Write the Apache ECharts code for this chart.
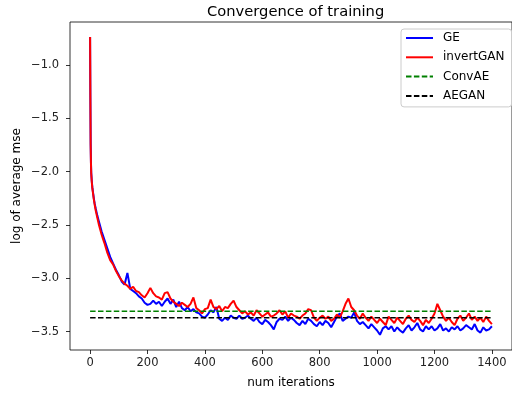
<!DOCTYPE html>
<html>
<head>
<meta charset="utf-8">
<script src="https://cdn.jsdelivr.net/npm/echarts@6/dist/echarts.min.js"></script>
<style>html,body{margin:0;padding:0;background:#fff}#c{width:512px;height:394px}</style>
</head>
<body>
<div id="c"></div>
<script>
const iters = [0,1,2,3,4,6,8,10,13,16,20,25,30,35,40,45,50,60,70,80,90,100,110,120,
130,140,150,160,170,180,190,200,210,220,230,240,250,260,270,280,290,300,310,320,330,340,350,360,370,380,390,400,
410,420,430,440,450,460,470,480,490,500,510,520,530,540,550,560,570,580,590,600,610,620,630,640,650,660,670,680,690,700,
710,720,730,740,750,760,770,780,790,800,810,820,830,840,850,860,870,880,890,900,910,920,930,940,950,960,970,980,990,1000,
1010,1020,1030,1040,1050,1060,1070,1080,1090,1100,1110,1120,1130,1140,1150,1160,1170,1180,1190,1200,1210,1220,1230,1240,1250,1260,1270,1280,1290,1300,
1310,1320,1330,1340,1350,1360,1370,1380,1390,1400];

const geValues = [-0.736,-1.30,-1.74,-1.91,-2.01,-2.09,-2.15,-2.19,-2.25,-2.30,-2.35,-2.41,-2.46,-2.51,-2.56,-2.60,-2.64,-2.72,-2.80,-2.86,-2.92,-2.97,-3.03,-3.06,
-2.95,-3.10,-3.12,-3.14,-3.17,-3.19,-3.23,-3.25,-3.24,-3.21,-3.24,-3.22,-3.26,-3.22,-3.19,-3.24,-3.20,-3.27,-3.22,-3.28,-3.30,-3.27,-3.31,-3.29,-3.32,-3.33,-3.36,-3.37,
-3.34,-3.30,-3.32,-3.27,-3.38,-3.40,-3.37,-3.39,-3.35,-3.37,-3.38,-3.35,-3.38,-3.37,-3.35,-3.38,-3.40,-3.37,-3.41,-3.43,-3.39,-3.41,-3.44,-3.48,-3.41,-3.38,-3.39,-3.36,-3.40,-3.37,
-3.39,-3.42,-3.44,-3.40,-3.43,-3.38,-3.40,-3.43,-3.45,-3.41,-3.44,-3.40,-3.42,-3.46,-3.41,-3.36,-3.33,-3.40,-3.38,-3.36,-3.37,-3.32,-3.40,-3.43,-3.41,-3.44,-3.47,-3.43,-3.46,-3.49,
-3.53,-3.47,-3.45,-3.48,-3.45,-3.50,-3.46,-3.49,-3.51,-3.47,-3.44,-3.49,-3.46,-3.42,-3.48,-3.50,-3.45,-3.48,-3.45,-3.49,-3.47,-3.43,-3.49,-3.47,-3.50,-3.46,-3.48,-3.45,-3.49,-3.47,
-3.44,-3.46,-3.48,-3.43,-3.49,-3.51,-3.46,-3.49,-3.48,-3.45];

const invertGanValues = [-0.736,-1.30,-1.75,-1.92,-2.02,-2.10,-2.16,-2.20,-2.26,-2.31,-2.37,-2.43,-2.49,-2.54,-2.59,-2.63,-2.67,-2.76,-2.83,-2.87,-2.93,-2.98,-3.02,-3.05,
-3.07,-3.10,-3.08,-3.12,-3.13,-3.16,-3.18,-3.14,-3.09,-3.14,-3.17,-3.18,-3.20,-3.14,-3.13,-3.19,-3.22,-3.24,-3.26,-3.23,-3.25,-3.27,-3.24,-3.18,-3.28,-3.30,-3.33,-3.29,
-3.28,-3.20,-3.27,-3.29,-3.26,-3.31,-3.27,-3.28,-3.24,-3.21,-3.27,-3.30,-3.33,-3.31,-3.34,-3.32,-3.35,-3.30,-3.33,-3.36,-3.34,-3.32,-3.36,-3.35,-3.33,-3.30,-3.34,-3.31,-3.37,-3.33,
-3.35,-3.36,-3.38,-3.35,-3.33,-3.29,-3.30,-3.37,-3.40,-3.37,-3.35,-3.38,-3.36,-3.40,-3.38,-3.34,-3.37,-3.31,-3.24,-3.19,-3.27,-3.30,-3.35,-3.38,-3.33,-3.37,-3.40,-3.36,-3.39,-3.42,
-3.38,-3.41,-3.44,-3.36,-3.39,-3.42,-3.37,-3.40,-3.43,-3.38,-3.35,-3.39,-3.41,-3.37,-3.40,-3.44,-3.39,-3.42,-3.38,-3.33,-3.24,-3.30,-3.36,-3.40,-3.37,-3.41,-3.44,-3.38,-3.35,-3.40,
-3.37,-3.33,-3.39,-3.36,-3.40,-3.37,-3.41,-3.36,-3.40,-3.43];

const convAEValue = -3.31;
const aeganValue = -3.37;
const baselineIters = [0, 1400];

const xTicks = [0,200,400,600,800,1000,1200,1400];
const yTicks = [-3.5,-3.0,-2.5,-2.0,-1.5,-1.0];

const pairs = (xs, ys) => xs.map((x, i) => [x, ys[i]]);
const flat = (xs, v) => xs.map(x => [x, v]);

const chart = echarts.init(document.getElementById('c'), null, {renderer: 'canvas'});
const font = 'DejaVu Sans';
chart.setOption({
  animation: false,
  backgroundColor: '#fff',
  textStyle: {fontFamily: font},
  title: {
    text: 'Convergence of training',
    left: 202, top: 0,
    textStyle: {fontFamily: font, fontSize: 14.7, fontWeight: 'normal', color: '#000'}
  },
  legend: {
    orient: 'vertical',
    left: 401, top: 29,
    padding: [3, 7, 5, 4],
    backgroundColor: '#fff',
    borderColor: '#ccc', borderWidth: 1, borderRadius: 3,
    itemWidth: 27, itemHeight: 12, itemGap: 7.3,
    itemStyle: {opacity: 0},
    textStyle: {fontFamily: font, fontSize: 12, color: '#000', padding: [0, 0, 0, 5]},
    data: ['GE', 'invertGAN', 'ConvAE', 'AEGAN']
  },
  grid: {
    left: 70, top: 22, width: 446, height: 333,
    show: true, borderColor: '#000', borderWidth: 0.8, containLabel: false
  },
  xAxis: {
    type: 'value', min: -70, max: 1470,
    name: 'num iterations', nameLocation: 'middle', nameGap: 27, nameMoveOverlap: false,
    nameTextStyle: {fontFamily: font, fontSize: 12, color: '#000'},
    axisLine: {show: false, onZero: false},
    axisTick: {show: true, length: 4, customValues: xTicks, lineStyle: {color: '#000', width: 0.8}},
    axisLabel: {customValues: xTicks, margin: 7, fontSize: 11.5, color: '#222', fontFamily: font,
      formatter: v => String(v)},
    splitLine: {show: false}
  },
  yAxis: {
    type: 'value', min: -3.673, max: -0.596,
    name: 'log of average mse', nameLocation: 'middle', nameGap: 47, nameMoveOverlap: false,
    nameTextStyle: {fontFamily: font, fontSize: 12, color: '#000'},
    axisLine: {show: false, onZero: false},
    axisTick: {show: true, length: 4, customValues: yTicks, lineStyle: {color: '#000', width: 0.8}},
    axisLabel: {customValues: yTicks, margin: 11, fontSize: 11.5, color: '#222', fontFamily: font,
      formatter: v => (v < 0 ? '\u2212' : '') + Math.abs(v).toFixed(1)},
    splitLine: {show: false}
  },
  series: [
    {name: 'GE', type: 'line', data: pairs(iters, geValues), symbol: 'none',
      lineStyle: {color: '#0000ff', width: 2}, itemStyle: {color: '#0000ff'}},
    {name: 'invertGAN', type: 'line', data: pairs(iters, invertGanValues), symbol: 'none',
      lineStyle: {color: '#ff0000', width: 2}, itemStyle: {color: '#ff0000'}},
    {name: 'ConvAE', type: 'line', data: flat(baselineIters, convAEValue), symbol: 'none',
      lineStyle: {color: '#008000', width: 1.5, type: [5.5, 2.4]}, itemStyle: {color: '#008000'}},
    {name: 'AEGAN', type: 'line', data: flat(baselineIters, aeganValue), symbol: 'none',
      lineStyle: {color: '#000000', width: 1.5, type: [5.5, 2.4]}, itemStyle: {color: '#000000'}}
  ]
});
</script>
</body>
</html>
